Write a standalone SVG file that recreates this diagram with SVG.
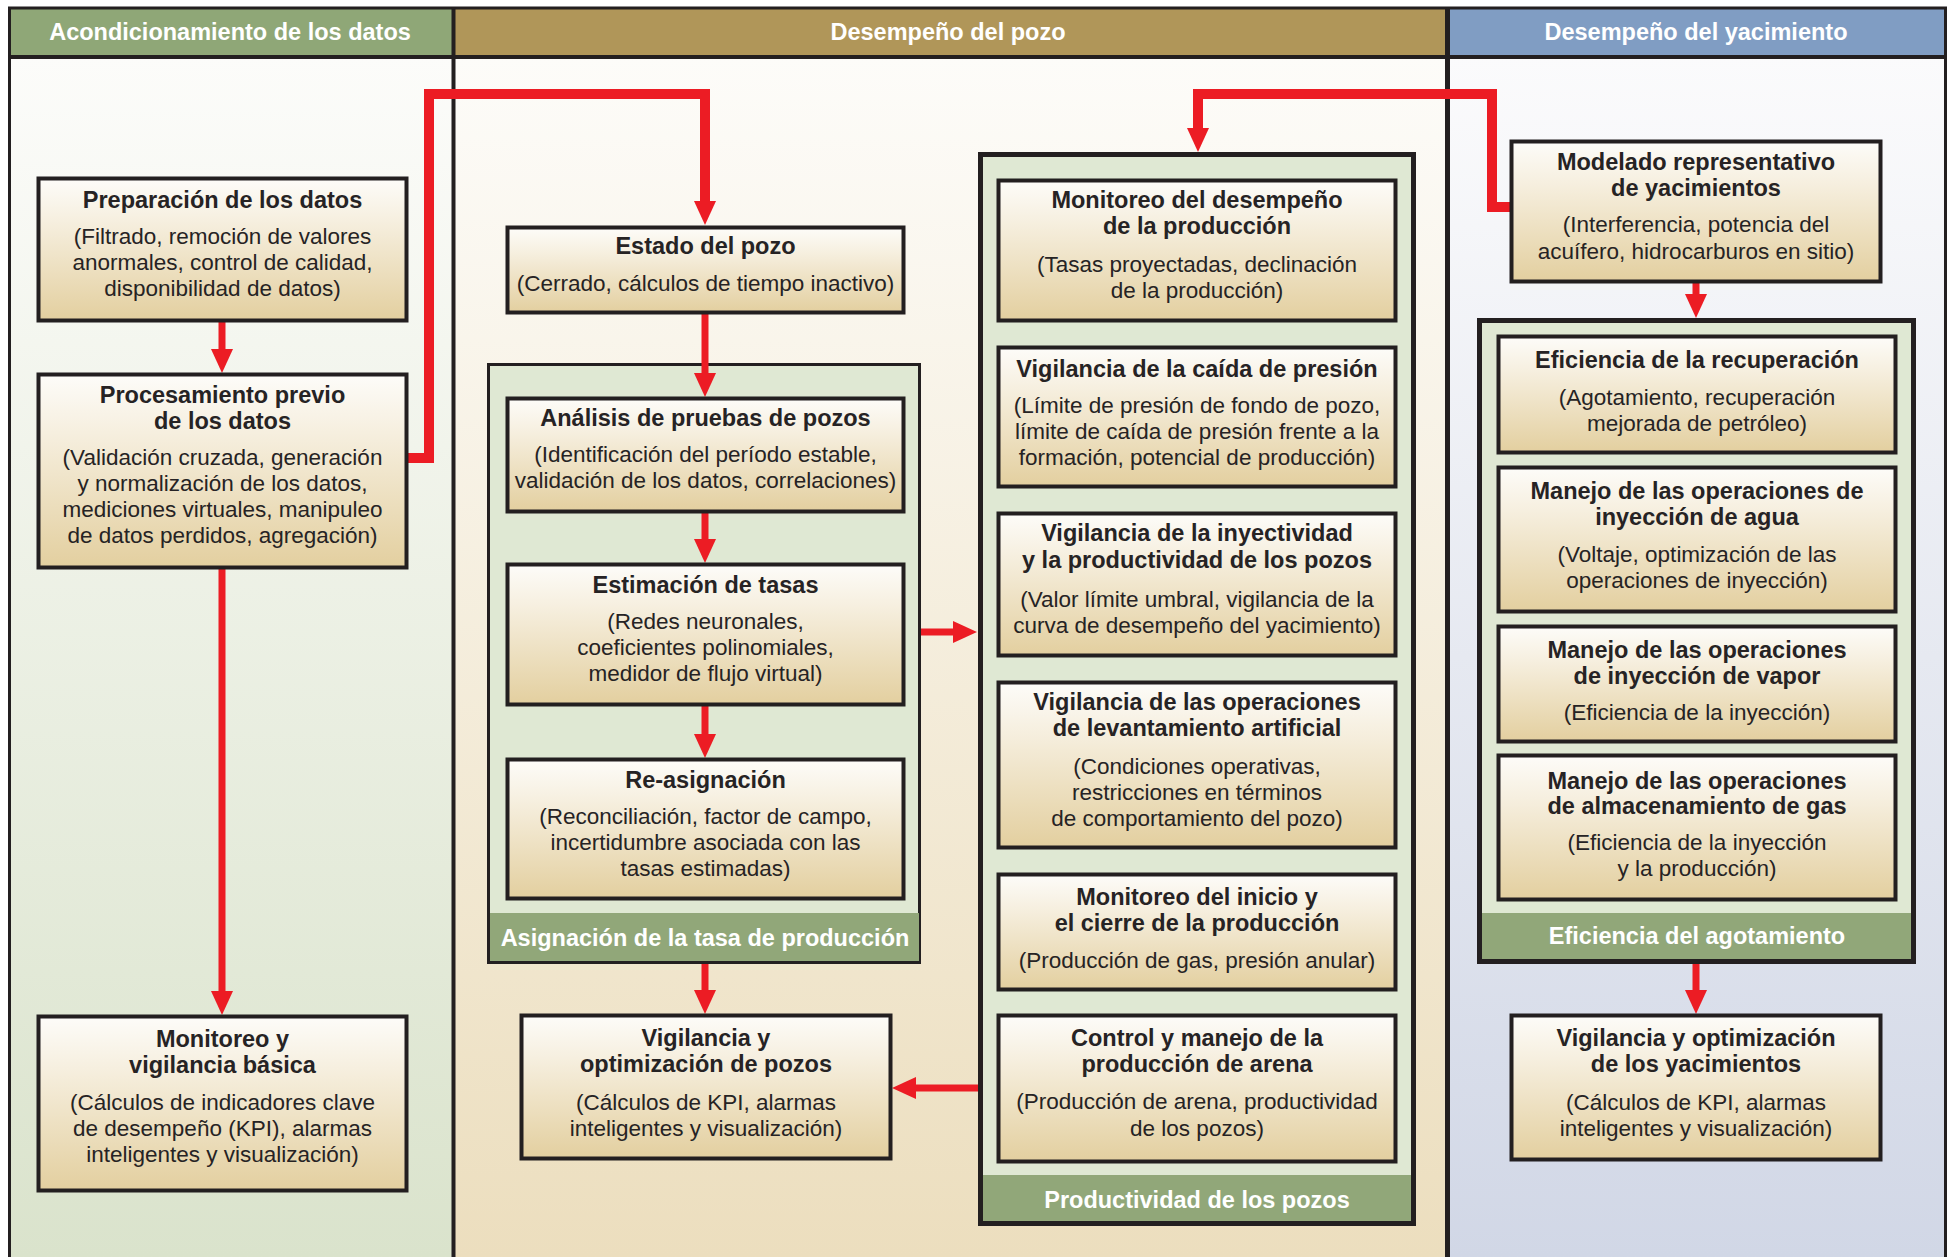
<svg xmlns="http://www.w3.org/2000/svg" width="1949" height="1257" viewBox="0 0 1949 1257">
<defs>
<linearGradient id="boxg" x1="0" y1="0" x2="0" y2="1">
<stop offset="0" stop-color="#fdfcf9"/>
<stop offset="0.3" stop-color="#f6efdf"/>
<stop offset="1" stop-color="#e3cf9f"/>
</linearGradient>
<linearGradient id="colL" x1="0" y1="0" x2="0" y2="1">
<stop offset="0" stop-color="#fcfcfa"/>
<stop offset="1" stop-color="#dae3cc"/>
</linearGradient>
<linearGradient id="colM" x1="0" y1="0" x2="0" y2="1">
<stop offset="0" stop-color="#fdfcf9"/>
<stop offset="1" stop-color="#ecdebe"/>
</linearGradient>
<linearGradient id="colR" x1="0" y1="0" x2="0" y2="1">
<stop offset="0" stop-color="#fbfbfc"/>
<stop offset="1" stop-color="#d1d7e6"/>
</linearGradient>
<marker id="ah" viewBox="0 0 24 22" refX="12" refY="11" markerWidth="24" markerHeight="22" markerUnits="userSpaceOnUse" orient="auto">
<path d="M0,0 L24,11 L0,22 z" fill="#ec1c24"/>
</marker>
<style>
.box{fill:url(#boxg);stroke:#231f20;stroke-width:4}
.grp{fill:#dfe8d3;stroke:#231f20}
.band{fill:#91a779}
.hd{font-family:"Liberation Sans",Arial,sans-serif;font-weight:bold;font-size:23.5px;fill:#ffffff;text-anchor:middle}
.t{font-family:"Liberation Sans",Arial,sans-serif;font-weight:bold;font-size:23.5px;fill:#262324;text-anchor:middle}
.b{font-family:"Liberation Sans",Arial,sans-serif;font-size:22.5px;fill:#262324;text-anchor:middle}
.c{fill:none;stroke:#ec1c24;stroke-width:7;marker-end:url(#ah)}
.ck{fill:none;stroke:#ec1c24;stroke-width:10;stroke-linejoin:miter;marker-end:url(#ah)}
.fr{stroke:#231f20;fill:none}
</style>
</defs>

<g id="background">
<rect x="10" y="57" width="443" height="1200" fill="url(#colL)"/>
<rect x="453" y="57" width="994" height="1200" fill="url(#colM)"/>
<rect x="1447" y="57" width="499" height="1200" fill="url(#colR)"/>
<rect x="10" y="9" width="443" height="47" fill="#8fa777"/>
<rect x="453" y="9" width="994" height="47" fill="#b09659"/>
<rect x="1447" y="9" width="499" height="47" fill="#809dc3"/>
<line class="fr" x1="8" y1="8" x2="1947" y2="8" stroke-width="3"/>
<line class="fr" x1="8" y1="57" x2="1947" y2="57" stroke-width="4"/>
<line class="fr" x1="9.5" y1="7" x2="9.5" y2="1257" stroke-width="3"/>
<line class="fr" x1="453.5" y1="7" x2="453.5" y2="1257" stroke-width="4"/>
<line class="fr" x1="1447.5" y1="7" x2="1447.5" y2="1257" stroke-width="5"/>
<line class="fr" x1="1945.5" y1="7" x2="1945.5" y2="1257" stroke-width="3"/>
<text class="hd" x="230" y="40">Acondicionamiento de los datos</text>
<text class="hd" x="948" y="40">Desempeño del pozo</text>
<text class="hd" x="1696" y="40">Desempeño del yacimiento</text>
</g>

<g id="group-asignacion">
<rect class="grp" x="488.5" y="364.5" width="431" height="598" stroke-width="3"/>
<rect class="band" x="490" y="913" width="429" height="48"/>
<text class="hd" x="705" y="946">Asignación de la tasa de producción</text>
</g>

<g id="group-productividad">
<rect class="grp" x="980.5" y="154.5" width="433" height="1069" stroke-width="5"/>
<rect class="band" x="983" y="1175" width="428" height="46"/>
<text class="hd" x="1197" y="1208">Productividad de los pozos</text>
</g>

<g id="group-eficiencia">
<rect class="grp" x="1479.5" y="320.5" width="434" height="641" stroke-width="5"/>
<rect class="band" x="1482" y="913" width="429" height="46"/>
<text class="hd" x="1697" y="944">Eficiencia del agotamiento</text>
</g>

<g id="connectors">
<path class="c" d="M222,322 V361"/>
<path class="c" d="M222,569 V1003"/>
<path class="ck" d="M408,458 H429 V94 H705 V213"/>
<path class="c" d="M705,314 V385"/>
<path class="c" d="M705,513 V551"/>
<path class="c" d="M705,706 V746"/>
<path class="c" d="M705,964 V1002"/>
<path class="c" d="M921,632 H965"/>
<path class="c" d="M978,1088 H904"/>
<path class="ck" d="M1511,207 H1492 V94 H1198 V140"/>
<path class="c" d="M1696,283 V306"/>
<path class="c" d="M1696,964 V1002"/>
</g>

<g id="n-preparacion">
<rect class="box" x="38.5" y="178.5" width="368" height="142"/>
<text class="t" x="222.5" y="208">Preparación de los datos</text>
<text class="b"><tspan x="222.5" y="244">(Filtrado, remoción de valores</tspan><tspan x="222.5" y="270">anormales, control de calidad,</tspan><tspan x="222.5" y="296">disponibilidad de datos)</tspan></text>
</g>

<g id="n-procesamiento">
<rect class="box" x="38.5" y="374.5" width="368" height="193"/>
<text class="t"><tspan x="222.5" y="403">Procesamiento previo</tspan><tspan x="222.5" y="429">de los datos</tspan></text>
<text class="b"><tspan x="222.5" y="465">(Validación cruzada, generación</tspan><tspan x="222.5" y="491">y normalización de los datos,</tspan><tspan x="222.5" y="517">mediciones virtuales, manipuleo</tspan><tspan x="222.5" y="543">de datos perdidos, agregación)</tspan></text>
</g>

<g id="n-monitoreo-basico">
<rect class="box" x="38.5" y="1016.5" width="368" height="174"/>
<text class="t"><tspan x="222.5" y="1047">Monitoreo y</tspan><tspan x="222.5" y="1073">vigilancia básica</tspan></text>
<text class="b"><tspan x="222.5" y="1110">(Cálculos de indicadores clave</tspan><tspan x="222.5" y="1136">de desempeño (KPI), alarmas</tspan><tspan x="222.5" y="1162">inteligentes y visualización)</tspan></text>
</g>

<g id="n-estado">
<rect class="box" x="507.5" y="227.5" width="396" height="85"/>
<text class="t" x="705.5" y="254">Estado del pozo</text>
<text class="b" x="705.5" y="291">(Cerrado, cálculos de tiempo inactivo)</text>
</g>

<g id="n-analisis">
<rect class="box" x="507.5" y="398.5" width="396" height="113"/>
<text class="t" x="705.5" y="426">Análisis de pruebas de pozos</text>
<text class="b"><tspan x="705.5" y="462">(Identificación del período estable,</tspan><tspan x="705.5" y="488">validación de los datos, correlaciones)</tspan></text>
</g>

<g id="n-estimacion">
<rect class="box" x="507.5" y="564.5" width="396" height="140"/>
<text class="t" x="705.5" y="593">Estimación de tasas</text>
<text class="b"><tspan x="705.5" y="629">(Redes neuronales,</tspan><tspan x="705.5" y="655">coeficientes polinomiales,</tspan><tspan x="705.5" y="681">medidor de flujo virtual)</tspan></text>
</g>

<g id="n-reasignacion">
<rect class="box" x="507.5" y="759.5" width="396" height="139"/>
<text class="t" x="705.5" y="788">Re-asignación</text>
<text class="b"><tspan x="705.5" y="824">(Reconciliación, factor de campo,</tspan><tspan x="705.5" y="850">incertidumbre asociada con las</tspan><tspan x="705.5" y="876">tasas estimadas)</tspan></text>
</g>

<g id="n-vigilancia-pozos">
<rect class="box" x="521.5" y="1015.5" width="369" height="143"/>
<text class="t"><tspan x="706" y="1046">Vigilancia y</tspan><tspan x="706" y="1072">optimización de pozos</tspan></text>
<text class="b"><tspan x="706" y="1110">(Cálculos de KPI, alarmas</tspan><tspan x="706" y="1136">inteligentes y visualización)</tspan></text>
</g>

<g id="n-monitoreo-desempeno">
<rect class="box" x="998.5" y="180.5" width="397" height="140"/>
<text class="t"><tspan x="1197" y="208">Monitoreo del desempeño</tspan><tspan x="1197" y="234">de la producción</tspan></text>
<text class="b"><tspan x="1197" y="272">(Tasas proyectadas, declinación</tspan><tspan x="1197" y="298">de la producción)</tspan></text>
</g>

<g id="n-caida-presion">
<rect class="box" x="998.5" y="347.5" width="397" height="139"/>
<text class="t" x="1197" y="377">Vigilancia de la caída de presión</text>
<text class="b"><tspan x="1197" y="413">(Límite de presión de fondo de pozo,</tspan><tspan x="1197" y="439">límite de caída de presión frente a la</tspan><tspan x="1197" y="465">formación, potencial de producción)</tspan></text>
</g>

<g id="n-inyectividad">
<rect class="box" x="998.5" y="513.5" width="397" height="142"/>
<text class="t"><tspan x="1197" y="541">Vigilancia de la inyectividad</tspan><tspan x="1197" y="568">y la productividad de los pozos</tspan></text>
<text class="b"><tspan x="1197" y="607">(Valor límite umbral, vigilancia de la</tspan><tspan x="1197" y="633">curva de desempeño del yacimiento)</tspan></text>
</g>

<g id="n-levantamiento">
<rect class="box" x="998.5" y="682.5" width="397" height="165"/>
<text class="t"><tspan x="1197" y="710">Vigilancia de las operaciones</tspan><tspan x="1197" y="736">de levantamiento artificial</tspan></text>
<text class="b"><tspan x="1197" y="774">(Condiciones operativas,</tspan><tspan x="1197" y="800">restricciones en términos</tspan><tspan x="1197" y="826">de comportamiento del pozo)</tspan></text>
</g>

<g id="n-inicio-cierre">
<rect class="box" x="998.5" y="874.5" width="397" height="115"/>
<text class="t"><tspan x="1197" y="905">Monitoreo del inicio y</tspan><tspan x="1197" y="931">el cierre de la producción</tspan></text>
<text class="b" x="1197" y="968">(Producción de gas, presión anular)</text>
</g>

<g id="n-arena">
<rect class="box" x="998.5" y="1015.5" width="397" height="146"/>
<text class="t"><tspan x="1197" y="1046">Control y manejo de la</tspan><tspan x="1197" y="1072">producción de arena</tspan></text>
<text class="b"><tspan x="1197" y="1109">(Producción de arena, productividad</tspan><tspan x="1197" y="1136">de los pozos)</tspan></text>
</g>

<g id="n-modelado">
<rect class="box" x="1511.5" y="141.5" width="369" height="140"/>
<text class="t"><tspan x="1696" y="170">Modelado representativo</tspan><tspan x="1696" y="196">de yacimientos</tspan></text>
<text class="b"><tspan x="1696" y="232">(Interferencia, potencia del</tspan><tspan x="1696" y="259">acuífero, hidrocarburos en sitio)</tspan></text>
</g>

<g id="n-recuperacion">
<rect class="box" x="1498.5" y="336.5" width="397" height="116"/>
<text class="t" x="1697" y="368">Eficiencia de la recuperación</text>
<text class="b"><tspan x="1697" y="405">(Agotamiento, recuperación</tspan><tspan x="1697" y="431">mejorada de petróleo)</tspan></text>
</g>

<g id="n-agua">
<rect class="box" x="1498.5" y="467.5" width="397" height="144"/>
<text class="t"><tspan x="1697" y="499">Manejo de las operaciones de</tspan><tspan x="1697" y="525">inyección de agua</tspan></text>
<text class="b"><tspan x="1697" y="562">(Voltaje, optimización de las</tspan><tspan x="1697" y="588">operaciones de inyección)</tspan></text>
</g>

<g id="n-vapor">
<rect class="box" x="1498.5" y="626.5" width="397" height="115"/>
<text class="t"><tspan x="1697" y="658">Manejo de las operaciones</tspan><tspan x="1697" y="684">de inyección de vapor</tspan></text>
<text class="b" x="1697" y="720">(Eficiencia de la inyección)</text>
</g>

<g id="n-gas">
<rect class="box" x="1498.5" y="755.5" width="397" height="144"/>
<text class="t"><tspan x="1697" y="789">Manejo de las operaciones</tspan><tspan x="1697" y="814">de almacenamiento de gas</tspan></text>
<text class="b"><tspan x="1697" y="850">(Eficiencia de la inyección</tspan><tspan x="1697" y="876">y la producción)</tspan></text>
</g>

<g id="n-vigilancia-yacimientos">
<rect class="box" x="1511.5" y="1015.5" width="369" height="144"/>
<text class="t"><tspan x="1696" y="1046">Vigilancia y optimización</tspan><tspan x="1696" y="1072">de los yacimientos</tspan></text>
<text class="b"><tspan x="1696" y="1110">(Cálculos de KPI, alarmas</tspan><tspan x="1696" y="1136">inteligentes y visualización)</tspan></text>
</g>
</svg>
